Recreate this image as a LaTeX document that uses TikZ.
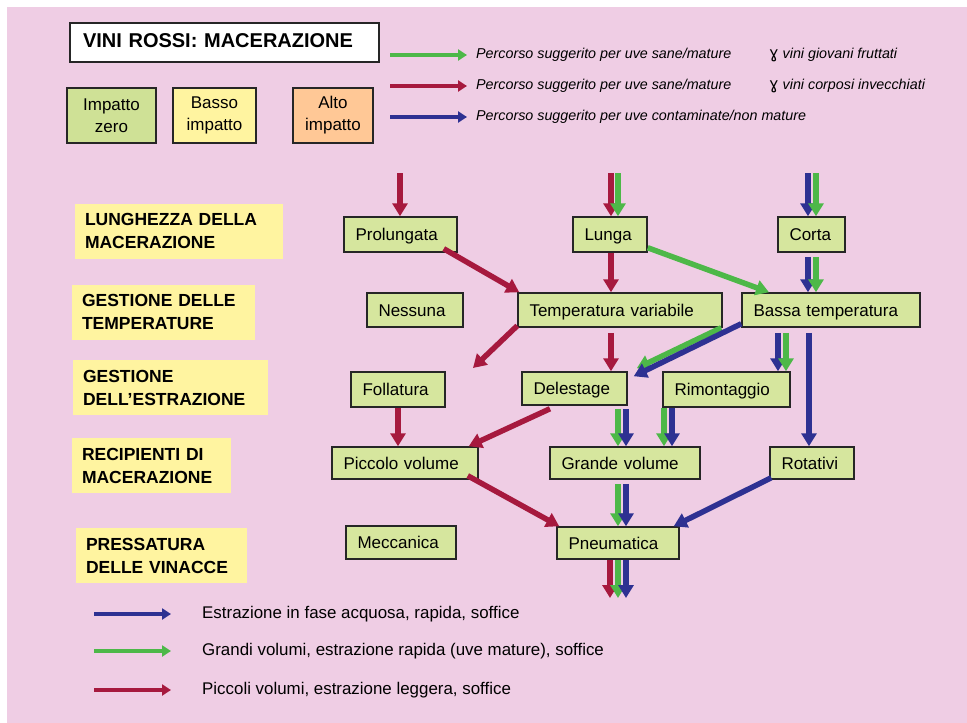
\documentclass[tikz,border=0pt]{standalone}
\usepackage{fontspec}
\setmainfont{Liberation Sans}
\newfontfamily\symfont{DejaVu Sans}
\usetikzlibrary{arrows.meta}
\definecolor{bgpink}{RGB}{239,205,228}
\definecolor{wred}{RGB}{166,25,62}
\definecolor{wgreen}{RGB}{77,184,72}
\definecolor{wblue}{RGB}{46,49,146}
\definecolor{boxgreen}{RGB}{214,230,158}
\definecolor{zerogreen}{RGB}{207,225,150}
\definecolor{labyellow}{RGB}{255,244,160}
\definecolor{altoorange}{RGB}{255,200,150}
\begin{document}
\begin{tikzpicture}[x=1pt,y=-1pt,
  fbox/.style={draw=black!85, line width=1.5pt, fill=boxgreen, inner xsep=11.5pt, inner ysep=0pt, minimum height=34pt, align=left, text height=13pt, text depth=1pt, font=\fontsize{17}{20}\selectfont},
  seclabel/.style={fill=labyellow, inner xsep=10pt, inner ysep=0pt, minimum height=55pt, align=left, font=\fontsize{17.5}{23}\selectfont\bfseries},
  impbox/.style={draw=black!85, line width=1.5pt, inner sep=0pt, minimum height=55pt, align=center, font=\fontsize{17}{22}\selectfont},
  flow/.style={line width=5.5pt, -{Triangle[length=13pt,width=15pt]}},
  legarrow/.style={line width=4.5pt, -{Triangle[length=9pt,width=11pt]}},
  toplegtext/.style={anchor=west, inner sep=0pt, font=\fontsize{14.3}{17}\selectfont\itshape},
  botlegtext/.style={anchor=west, inner sep=0pt, font=\fontsize{16.9}{20}\selectfont}
]
\useasboundingbox (0,0) rectangle (967,723);
\fill[white] (0,0) rectangle (967,723);
\fill[bgpink] (7,7) rectangle (967,723);

% title and impact legend
\node[draw=black!85, fill=white, line width=1.5pt, minimum width=309pt, minimum height=39pt, text width=283pt, inner xsep=13pt, inner ysep=0pt, align=left, text height=14.5pt, text depth=4pt, font=\fontsize{20}{24}\selectfont\bfseries] (title) at (224.5,42.5) {VINI ROSSI: MACERAZIONE};
\node[impbox, fill=zerogreen, minimum width=89pt] (imp0) at (111.5,115.5) {Impatto\\zero};
\node[impbox, fill=labyellow, minimum width=83pt] (imp1) at (214.5,115.5) {Basso\\impatto};
\node[impbox, fill=altoorange, minimum width=80pt] (imp2) at (333,115.5) {Alto\\impatto};

% top path legend
\node[toplegtext] (lt1) at (476,55) {Percorso suggerito per uve sane/mature};
\node[toplegtext] (lt2) at (476,86) {Percorso suggerito per uve sane/mature};
\node[toplegtext] (lt3) at (476,117) {Percorso suggerito per uve contaminate/non mature};
\node[toplegtext] (ls1) at (769,55) {{\symfont\upshape\fontsize{16}{17}\selectfont ɣ} vini giovani fruttati};
\node[toplegtext] (ls2) at (769,86) {{\symfont\upshape\fontsize{16}{17}\selectfont ɣ} vini corposi invecchiati};
\draw[legarrow, wgreen] ([xshift=-86pt]lt1.west) -- ([xshift=-9pt]lt1.west);
\draw[legarrow, wred] ([xshift=-86pt]lt2.west) -- ([xshift=-9pt]lt2.west);
\draw[legarrow, wblue] ([xshift=-86pt]lt3.west) -- ([xshift=-9pt]lt3.west);

% section labels
\node[seclabel, minimum width=208pt, text width=188pt] (l1) at (179,231) {LUNGHEZZA DELLA\\MACERAZIONE};
\node[seclabel, minimum width=183pt, text width=163pt] (l2) at (163.5,312) {GESTIONE DELLE\\TEMPERATURE};
\node[seclabel, minimum width=195pt, text width=175pt] (l3) at (170.5,387.5) {GESTIONE\\DELL’ESTRAZIONE};
\node[seclabel, minimum width=159pt, text width=139pt] (l4) at (151.5,465.5) {RECIPIENTI DI\\MACERAZIONE};
\node[seclabel, minimum width=171pt, text width=151pt] (l5) at (161.5,555.5) {PRESSATURA\\DELLE VINACCE};

% flow boxes
\node[fbox, minimum height=35pt, text width=90pt] (prol) at (400.5,234.5) {Prolungata};
\node[fbox, minimum height=35pt, text width=51pt] (lunga) at (610,234.5) {Lunga};
\node[fbox, minimum height=35pt, text width=44pt] (corta) at (811.5,234.5) {Corta};
\node[fbox, text width=73pt] (ness) at (415,310) {Nessuna};
\node[fbox, text width=181pt] (tvar) at (620,310) {Temperatura variabile};
\node[fbox, text width=155pt] (bassa) at (831,310) {Bassa temperatura};
\node[fbox, minimum height=35pt, text width=71pt] (foll) at (398,389.5) {Follatura};
\node[fbox, minimum height=33pt, text width=82pt] (deles) at (574.5,388.5) {Delestage};
\node[fbox, minimum height=35pt, text width=104pt] (rimo) at (726.5,389.5) {Rimontaggio};
\node[fbox, minimum height=32pt, text width=123pt] (picc) at (405,463) {Piccolo volume};
\node[fbox, minimum height=32pt, text width=127pt] (grande) at (625,463) {Grande volume};
\node[fbox, minimum height=32pt, text width=61pt] (rot) at (812,463) {Rotativi};
\node[fbox, minimum height=33pt, text width=87pt] (mecc) at (401,542.5) {Meccanica};
\node[fbox, minimum height=32pt, text width=99pt] (pneu) at (618,543) {Pneumatica};

% column references and free ends
\coordinate (inP) at (400,173);
\coordinate (inLr) at (611,173);
\coordinate (inLg) at (618,173);
\coordinate (inCb) at (808,173);
\coordinate (inCg) at (816,173);
\coordinate (xB) at (626,0);
\coordinate (xLB) at (769,0);
\coordinate (xRb) at (778,0);
\coordinate (xRg) at (786,0);
\coordinate (xRot) at (809,0);
\coordinate (xF) at (398,0);
\coordinate (xRmg) at (664,0);
\coordinate (xRmb) at (672,0);
\coordinate (tvarout) at (473,368);
\coordinate (outR) at (610,598);
\coordinate (outG) at (618,598);
\coordinate (outB) at (626,598);

% inputs
\draw[flow,wred] (inP) -- (inP |- prol.north);
\draw[flow,wred] (inLr) -- (inLr |- lunga.north);
\draw[flow,wgreen] (inLg) -- (inLg |- lunga.north);
\draw[flow,wblue] (inCb) -- (inCb |- corta.north);
\draw[flow,wgreen] (inCg) -- (inCg |- corta.north);

% length -> temperature
\draw[flow,wred] ([xshift=-14pt,yshift=4pt]prol.south east) -- ([xshift=2pt]tvar.north west);
\draw[flow,wred] (lunga.south -| inLr) -- (tvar.north -| inLr);
\draw[flow,wgreen] ([yshift=5pt]lunga.south east) -- (bassa.north -| xLB);
\draw[flow,wblue,shorten <=4pt] (corta.south -| inCb) -- (bassa.north -| inCb);
\draw[flow,wgreen,shorten <=4pt] (corta.south -| inCg) -- (bassa.north -| inCg);

% temperature -> extraction
\draw[flow,wred] ([yshift=2pt]tvar.south west) -- (tvarout);
\draw[flow,wred,shorten <=5pt] (tvar.south -| inLr) -- (deles.north -| inLr);
\draw[flow,wgreen] ([xshift=-20pt]bassa.south west) -- ([xshift=9pt,yshift=3pt]deles.north east);
\draw[flow,wblue] ([yshift=4pt]bassa.south west) -- ([xshift=6pt,yshift=-5pt]deles.north east);
\draw[flow,wblue,shorten <=5pt] (bassa.south -| xRb) -- (rimo.north -| xRb);
\draw[flow,wgreen,shorten <=5pt] (bassa.south -| xRg) -- (rimo.north -| xRg);
\draw[flow,wblue,shorten <=5pt] (bassa.south -| xRot) -- (rot.north -| xRot);

% extraction -> vessels
\draw[flow,wred] (foll.south -| xF) -- (picc.north -| xF);
\draw[flow,wred] ([xshift=-24.5pt,yshift=-3pt]deles.south) -- ([xshift=-10pt]picc.north east);
\draw[flow,wgreen,shorten <=3pt] (deles.south -| inLg) -- (grande.north -| inLg);
\draw[flow,wblue,shorten <=3pt] (deles.south -| xB) -- (grande.north -| xB);
\draw[flow,wgreen] (rimo.south -| xRmg) -- (grande.north -| xRmg);
\draw[flow,wblue] (rimo.south -| xRmb) -- (grande.north -| xRmb);

% vessels -> pressing
\draw[flow,wred] ([xshift=-11pt,yshift=4pt]picc.south east) -- ([xshift=3pt]pneu.north west);
\draw[flow,wgreen,shorten <=4pt] (grande.south -| inLg) -- (pneu.north -| inLg);
\draw[flow,wblue,shorten <=4pt] (grande.south -| xB) -- (pneu.north -| xB);
\draw[flow,wblue] ([xshift=2pt,yshift=2pt]rot.south west) -- ([xshift=-6pt]pneu.north east);

% outputs
\draw[flow,wred] (pneu.south -| outR) -- (outR);
\draw[flow,wgreen] (pneu.south -| outG) -- (outG);
\draw[flow,wblue] (pneu.south -| outB) -- (outB);

% bottom legend
\node[botlegtext] (bl1) at (202,614) {Estrazione in fase acquosa, rapida, soffice};
\node[botlegtext] (bl2) at (202,651) {Grandi volumi, estrazione rapida (uve mature), soffice};
\node[botlegtext] (bl3) at (202,690) {Piccoli volumi, estrazione leggera, soffice};
\draw[legarrow, wblue] ([xshift=-108pt]bl1.west) -- ([xshift=-31pt]bl1.west);
\draw[legarrow, wgreen] ([xshift=-108pt]bl2.west) -- ([xshift=-31pt]bl2.west);
\draw[legarrow, wred] ([xshift=-108pt]bl3.west) -- ([xshift=-31pt]bl3.west);
\end{tikzpicture}
\end{document}
